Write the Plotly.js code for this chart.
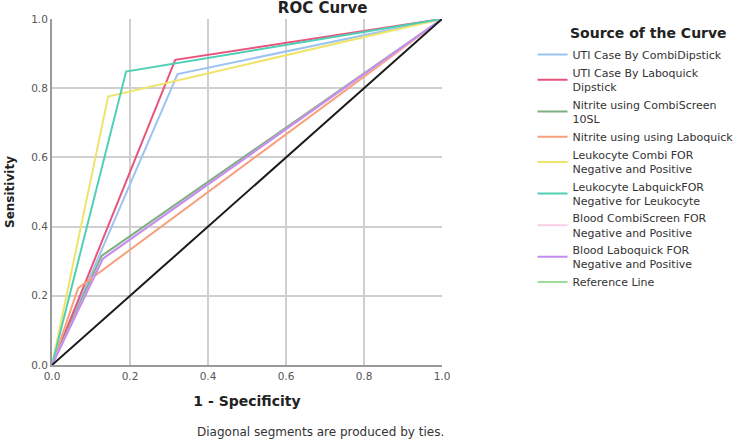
<!DOCTYPE html>
<html>
<head>
<meta charset="utf-8">
<script src="https://cdn.plot.ly/plotly-3.0.1.min.js"></script>
<style>html,body{margin:0;padding:0;background:#fff;}#chart{width:750px;height:441px;}</style>
</head>
<body>
<div id="chart"></div>
<script>
// Series names (legend labels)
const seriesNames = [
  "UTI Case By CombiDipstick",
  "UTI Case By Laboquick<br>Dipstick",
  "Nitrite using CombiScreen<br>10SL",
  "Nitrite using using Laboquick",
  "Leukocyte Combi FOR<br>Negative and Positive",
  "Leukocyte LabquickFOR<br>Negative for Leukocyte",
  "Blood CombiScreen FOR<br>Negative and Positive",
  "Blood Laboquick FOR<br>Negative and Positive"
];
const seriesColors = ["#9cc3f2", "#e8557c", "#7fae80", "#f7a07c", "#efe46a", "#4fd0b6", "#f8cfe4", "#c48cf2"];

// ROC points: 1 - Specificity (x) and Sensitivity (y)
const utiCombiX = [0, 0.322, 1];   const utiCombiY = [0, 0.841, 1];
const utiLaboX = [0, 0.316, 1];    const utiLaboY = [0, 0.882, 1];
const nitCombiX = [0, 0.127, 1];   const nitCombiY = [0, 0.315, 1];
const nitLaboX = [0, 0.067, 1];    const nitLaboY = [0, 0.222, 1];
const leuCombiX = [0, 0.144, 1];   const leuCombiY = [0, 0.776, 1];
const leuLaboX = [0, 0.190, 1];    const leuLaboY = [0, 0.848, 1];
const bloCombiX = [0, 0.129, 1];   const bloCombiY = [0, 0.305, 1];
const bloLaboX = [0, 0.131, 1];    const bloLaboY = [0, 0.308, 1];
const refX = [0, 1];               const refY = [0, 1];

const xs = [utiCombiX, utiLaboX, nitCombiX, nitLaboX, leuCombiX, leuLaboX, bloCombiX, bloLaboX];
const ys = [utiCombiY, utiLaboY, nitCombiY, nitLaboY, leuCombiY, leuLaboY, bloCombiY, bloLaboY];

const tickVals = [0, 0.2, 0.4, 0.6, 0.8, 1.0];
const tickText = ["0.0", "0.2", "0.4", "0.6", "0.8", "1.0"];

const font = "DejaVu Sans, Verdana, sans-serif";

const traces = xs.map((x, i) => ({
  type: "scatter", mode: "lines", x: x, y: ys[i], name: seriesNames[i],
  line: {color: seriesColors[i], width: 2}, hoverinfo: "skip"
}));
// Reference diagonal drawn in black
traces.push({type: "scatter", mode: "lines", x: refX, y: refY, name: "diag",
  line: {color: "#1a1a1a", width: 2}, showlegend: false, hoverinfo: "skip"});
// Legend entry for the reference line
traces.push({type: "scatter", mode: "lines", x: [null], y: [null], name: "Reference Line",
  line: {color: "#9fdc98", width: 2}, hoverinfo: "skip"});

const layout = {
  width: 750, height: 441,
  margin: {l: 52, r: 306, t: 19, b: 76},
  paper_bgcolor: "#fff", plot_bgcolor: "#fff",
  font: {family: font, color: "#333"},
  title: {text: "<b>ROC Curve</b>", font: {size: 15, color: "#222", family: font},
    xref: "paper", x: 0.694, xanchor: "center", yref: "container", y: 1 - 8/441, yanchor: "middle"},
  xaxis: {range: [0, 1], tickvals: tickVals, ticktext: tickText, showgrid: true,
    gridcolor: "#cfcfcf", gridwidth: 2, zeroline: false, showline: true, linecolor: "#9a9a9a", linewidth: 2,
    ticks: "", tickfont: {size: 10.5, color: "#555"},
    title: {text: "<b>1 - Specificity</b>", font: {size: 14, color: "#222"}, standoff: 16}, fixedrange: true},
  yaxis: {range: [0, 1], tickvals: tickVals, ticktext: tickText, showgrid: true,
    gridcolor: "#cfcfcf", gridwidth: 2, zeroline: false, showline: true, linecolor: "#9a9a9a", linewidth: 2,
    ticks: "", tickfont: {size: 10.5, color: "#555"},
    title: {text: "<b>Sensitivity</b>", font: {size: 12, color: "#222"}, standoff: 14}, fixedrange: true},
  showlegend: true,
  legend: {x: (535 - 52) / 392, xanchor: "left", y: (365 - 40) / 346, yanchor: "top",
    font: {size: 11, color: "#333"}, bgcolor: "rgba(0,0,0,0)", tracegroupgap: 0, itemwidth: 30},
  annotations: [
    {text: "<b>Source of the Curve</b>", xref: "paper", yref: "paper", x: (571 - 52) / 392, y: (365 - 33) / 346,
      xanchor: "left", yanchor: "middle", showarrow: false, font: {size: 14, color: "#222"}},
    {text: "Diagonal segments are produced by ties.", xref: "paper", yref: "paper", x: (448 - 52) / 392, y: (365 - 432) / 346,
      xanchor: "right", yanchor: "middle", showarrow: false, font: {size: 12, color: "#333"}}
  ]
};

Plotly.newPlot("chart", traces, layout, {displayModeBar: false, staticPlot: true});
</script>
</body>
</html>
